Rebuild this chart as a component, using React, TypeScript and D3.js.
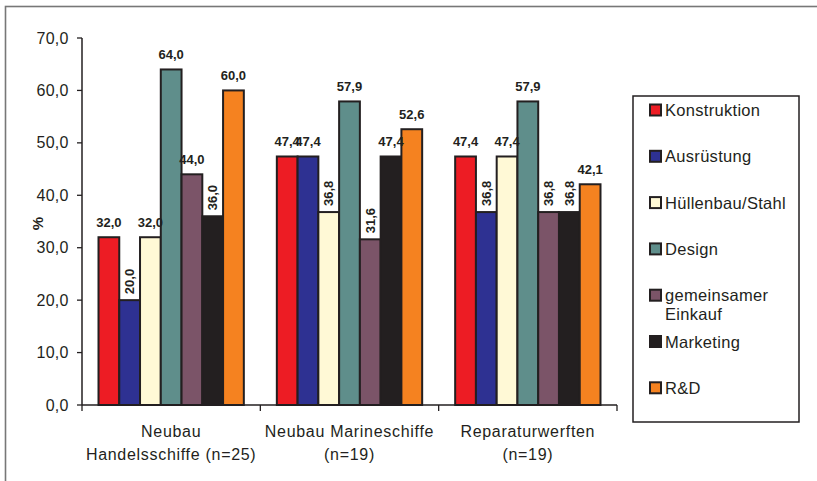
import React from "react";
import * as d3 from "d3";

const categories: string[][] = [
  ["Neubau", "Handelsschiffe (n=25)"],
  ["Neubau Marineschiffe", "(n=19)"],
  ["Reparaturwerften", "(n=19)"],
];
const seriesNames: string[][] = [
  ["Konstruktion"],
  ["Ausrüstung"],
  ["Hüllenbau/Stahl"],
  ["Design"],
  ["gemeinsamer", "Einkauf"],
  ["Marketing"],
  ["R&D"],
];
const seriesColors = ["#ed1c24", "#2e3192", "#fff9d6", "#5f8e8b", "#7b5468", "#231f20", "#f58220"];
const valuesHandel = [32.0, 20.0, 32.0, 64.0, 44.0, 36.0, 60.0];
const valuesMarine = [47.4, 47.4, 36.8, 57.9, 31.6, 47.4, 52.6];
const valuesReparatur = [47.4, 36.8, 47.4, 57.9, 36.8, 36.8, 42.1];
const groupValues = [valuesHandel, valuesMarine, valuesReparatur];
// which labels are drawn vertically (series index per group)
const rotatedLabels = [[1, 5], [2, 4], [1, 4, 5]];
const yTicks = [0, 10, 20, 30, 40, 50, 60, 70];

const locale = d3.formatLocale({ decimal: ",", thousands: ".", grouping: [3], currency: ["", "€"] });
const fmt = locale.format(".1f");

const FONT = "'Liberation Sans', Arial, sans-serif";
const DARK = "#231f20";

export default function App() {
  const width = 817;
  const height = 481;
  const x0 = 82;
  const x1 = 617;
  const yTop = 38;
  const yBottom = 405;

  const y = d3.scaleLinear().domain([0, 70]).range([yBottom, yTop]);
  const gx = d3.scaleBand<number>().domain(d3.range(categories.length)).range([x0, x1]).paddingInner(0).paddingOuter(0);
  const inset = 16.5;
  const bx = d3
    .scaleBand<number>()
    .domain(d3.range(seriesNames.length))
    .range([inset, gx.bandwidth() - inset])
    .padding(0);

  const legendX = 633;
  const legendY = 96;
  const legendW = 166;
  const legendH = 326;
  const legendStep = 46.3;
  const legendFirst = 110;

  return (
    <svg width={width} height={height} style={{ position: "absolute", left: 0, top: 0, background: "#fff" }} fontFamily={FONT}>
      <rect x={5.5} y={6.5} width={width + 10} height={height + 10} fill="#fff" stroke="#777" strokeWidth={1.6} />

      {/* y axis */}
      <line x1={x0} x2={x0} y1={y(70)} y2={y(0)} stroke={DARK} strokeWidth={1.5} />
      {yTicks.map((t) => (
        <g key={t}>
          <line x1={x0 - 5} x2={x0} y1={y(t)} y2={y(t)} stroke={DARK} strokeWidth={1.3} />
          <text x={68.5} y={y(t)} textAnchor="end" dominantBaseline="central" fontSize={16} letterSpacing={0.2} fill="#231f20">
            {fmt(t)}
          </text>
        </g>
      ))}
      <text
        transform={`translate(37,${(y(70) + y(0)) / 2 + 2}) rotate(-90)`}
        textAnchor="middle"
        dominantBaseline="central"
        fontSize={15}
        fontWeight="bold"
        fill={DARK}
      >
        %
      </text>

      {/* bars */}
      {groupValues.map((vals, gi) => (
        <g key={gi} transform={`translate(${gx(gi)},0)`}>
          {vals.map((v, si) => (
            <rect
              key={si}
              x={bx(si)!}
              y={y(v)}
              width={bx.bandwidth()}
              height={y(0) - y(v)}
              fill={seriesColors[si]}
              stroke={DARK}
              strokeWidth={2}
            />
          ))}
          {vals.map((v, si) => {
            const cx = bx(si)! + bx.bandwidth() / 2;
            if (rotatedLabels[gi].includes(si)) {
              return (
                <text
                  key={"l" + si}
                  transform={`translate(${cx},${y(v) - 6}) rotate(-90)`}
                  textAnchor="start"
                  dominantBaseline="central"
                  fontSize={13}
                  fontWeight="bold"
                  fill={DARK}
                >
                  {fmt(v)}
                </text>
              );
            }
            return (
              <text key={"l" + si} x={cx} y={y(v) - 10.5} textAnchor="middle" fontSize={13} fontWeight="bold" fill={DARK}>
                {fmt(v)}
              </text>
            );
          })}
        </g>
      ))}

      {/* x axis */}
      <line x1={x0} x2={x1} y1={y(0)} y2={y(0)} stroke={DARK} strokeWidth={1.5} />
      {[...categories.map((_, i) => gx(i)!), x1].map((tx, i) => (
        <line key={i} x1={tx} x2={tx} y1={y(0)} y2={y(0) + 6} stroke={DARK} strokeWidth={1.3} />
      ))}
      {categories.map((lines, gi) => (
        <text key={gi} x={gx(gi)! + gx.bandwidth() / 2} y={436.5} textAnchor="middle" fontSize={16} letterSpacing={0.7} fill={DARK}>
          {lines.map((ln, li) => (
            <tspan key={li} x={gx(gi)! + gx.bandwidth() / 2} dy={li === 0 ? 0 : 23}>
              {ln}
            </tspan>
          ))}
        </text>
      ))}

      {/* legend */}
      <rect x={legendX} y={legendY} width={legendW} height={legendH} fill="#fff" stroke={DARK} strokeWidth={1.5} />
      {seriesNames.map((lines, si) => {
        const cy = legendFirst + si * legendStep;
        return (
          <g key={si}>
            <rect x={650} y={cy - 5.5} width={11} height={11} fill={seriesColors[si]} stroke={DARK} strokeWidth={2} />
            <text x={665} y={cy} dominantBaseline="central" fontSize={16.5} letterSpacing={0.3} fill={DARK}>
              {lines.map((ln, li) => (
                <tspan key={li} x={665} dy={li === 0 ? 0 : 19}>
                  {ln}
                </tspan>
              ))}
            </text>
          </g>
        );
      })}
    </svg>
  );
}
